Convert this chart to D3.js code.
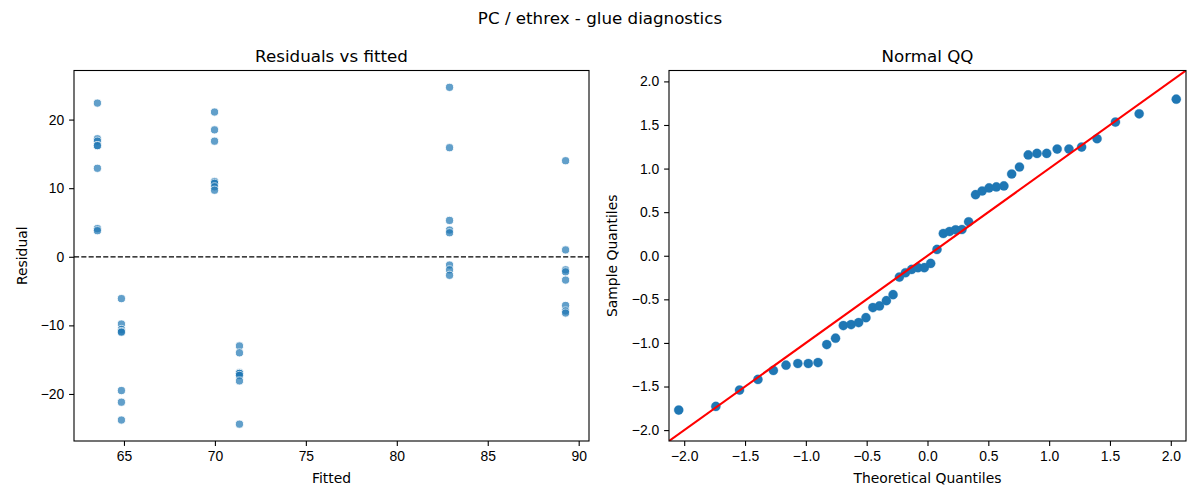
<!DOCTYPE html>
<html>
<head>
<meta charset="utf-8">
<script src="https://cdn.jsdelivr.net/npm/d3@7"></script>
<style>
  body { margin: 0; background: #fff; }
  svg { display: block; font-family: "DejaVu Sans", sans-serif; }
  .tick text { font-size: 13.9px; fill: #000; }
</style>
</head>
<body>
<svg id="chart" width="1200" height="500"></svg>
<script>
// ---------- data ----------
const suptitle = "PC / ethrex - glue diagnostics";
const leftTitle = "Residuals vs fitted";
const rightTitle = "Normal QQ";

const fitted = [
  63.54, 63.54, 63.54, 63.54, 63.54, 63.54, 63.54, 63.54,
  64.86, 64.86, 64.86, 64.86, 64.86, 64.86, 64.86, 64.86,
  69.98, 69.98, 69.98, 69.98, 69.98, 69.98, 69.98, 69.98,
  71.35, 71.35, 71.35, 71.35, 71.35, 71.35, 71.35, 71.35,
  82.90, 82.90, 82.90, 82.90, 82.90, 82.90, 82.90, 82.90,
  89.28, 89.28, 89.28, 89.28, 89.28, 89.28, 89.28, 89.28
];
const residual = [
  22.4, 17.2, 16.85, 16.2, 16.2, 12.9, 4.1, 3.8,
  -6.1, -9.8, -10.6, -10.9, -11.0, -19.5, -21.2, -23.8,
  21.1, 18.5, 16.85, 11.0, 10.9, 10.7, 10.2, 9.7,
  -13.0, -14.0, -16.9, -17.0, -17.0, -17.3, -18.1, -24.4,
  24.7, 15.9, 5.3, 3.9, 3.5, -1.2, -1.9, -2.7,
  14.0, 1.0, -1.9, -2.2, -3.4, -7.1, -7.9, -8.2
];
const fittedTicks = [65, 70, 75, 80, 85, 90];
const residualTicks = [-20, -10, 0, 10, 20];

const theoretical = [
  -2.045, -1.74, -1.545, -1.394, -1.267, -1.163, -1.066, -0.98, -0.90, -0.828, -0.756, -0.692,
  -0.628, -0.566, -0.506, -0.449, -0.395, -0.338, -0.283, -0.231, -0.181, -0.130, -0.078, -0.026,
  0.026, 0.078, 0.130, 0.181, 0.231, 0.283, 0.338, 0.395, 0.449, 0.506, 0.566, 0.628,
  0.692, 0.756, 0.828, 0.90, 0.98, 1.066, 1.163, 1.267, 1.394, 1.545, 1.74, 2.045
];
const sample = [
  -1.770, -1.728, -1.541, -1.419, -1.316, -1.255, -1.236, -1.236, -1.225, -1.019, -0.946, -0.801,
  -0.790, -0.767, -0.710, -0.595, -0.576, -0.515, -0.446, -0.245, -0.195, -0.157, -0.137, -0.137,
  -0.088, 0.072, 0.255, 0.278, 0.297, 0.301, 0.389, 0.701, 0.743, 0.778, 0.789, 0.801,
  0.938, 1.018, 1.156, 1.174, 1.174, 1.224, 1.224, 1.247, 1.342, 1.533, 1.628, 1.796
];
const qqTicks = [-2.0, -1.5, -1.0, -0.5, 0.0, 0.5, 1.0, 1.5, 2.0];
const qqLimits = [-2.125, 2.125];

// ---------- layout ----------
const svg = d3.select("#chart");
const plotTop = 70.5, plotBottom = 441;
const L = { x0: 74, x1: 589 };
const R = { x0: 669, x1: 1186 };
const blue = "#1f77b4";
const fmtInt = d3.format("d");
const fmt1 = d3.format(".1f");

function padDomain(vals) {
  const [a, b] = d3.extent(vals);
  const m = (b - a) * 0.05;
  return [a - m, b + m];
}

function frame(g, x0, x1) {
  g.append("rect")
    .attr("x", x0).attr("y", plotTop)
    .attr("width", x1 - x0).attr("height", plotBottom - plotTop)
    .attr("fill", "none").attr("stroke", "#000").attr("stroke-width", 1.1);
}

function styleAxis(sel) {
  sel.select(".domain").remove();
  sel.selectAll(".tick line").attr("stroke", "#000").attr("stroke-width", 1.1);
}

// ---------- suptitle ----------
svg.append("text").attr("x", 600).attr("y", 24)
  .attr("text-anchor", "middle").attr("font-size", 16.7).text(suptitle);

// ---------- left panel ----------
const xL = d3.scaleLinear().domain(padDomain(fitted)).range([L.x0, L.x1]);
const yL = d3.scaleLinear().domain(padDomain(residual)).range([plotBottom, plotTop]);
const gL = svg.append("g");

gL.append("g").attr("transform", `translate(0,${plotBottom})`)
  .call(d3.axisBottom(xL).tickValues(fittedTicks).tickFormat(fmtInt).tickSize(4.9).tickPadding(4.9))
  .call(styleAxis);
gL.append("g").attr("transform", `translate(${L.x0},0)`)
  .call(d3.axisLeft(yL).tickValues(residualTicks).tickFormat(fmtInt).tickSize(4.9).tickPadding(4.9))
  .call(styleAxis);

gL.append("line")
  .attr("x1", L.x0).attr("x2", L.x1)
  .attr("y1", yL(0)).attr("y2", yL(0))
  .attr("stroke", "#000").attr("stroke-width", 1.3)
  .attr("stroke-dasharray", "5.1,2.2");

gL.append("g").selectAll("circle")
  .data(fitted.map((f, i) => ({ f, r: residual[i] })))
  .join("circle")
  .attr("cx", d => xL(d.f)).attr("cy", d => yL(d.r))
  .attr("r", 4.1)
  .attr("fill", blue).attr("stroke", "#fff").attr("stroke-width", 0.9)
  .attr("opacity", 0.7);

frame(gL, L.x0, L.x1);

gL.append("text").attr("x", (L.x0 + L.x1) / 2).attr("y", 62)
  .attr("text-anchor", "middle").attr("font-size", 16.7).text(leftTitle);
gL.append("text").attr("x", (L.x0 + L.x1) / 2).attr("y", 483)
  .attr("text-anchor", "middle").attr("font-size", 13.9).text("Fitted");
gL.append("text")
  .attr("transform", `translate(26.5,${(plotTop + plotBottom) / 2}) rotate(-90)`)
  .attr("text-anchor", "middle").attr("font-size", 13.9).text("Residual");

// ---------- right panel ----------
const xR = d3.scaleLinear().domain(qqLimits).range([R.x0, R.x1]);
const yR = d3.scaleLinear().domain(qqLimits).range([plotBottom, plotTop]);
const gR = svg.append("g");

gR.append("g").attr("transform", `translate(0,${plotBottom})`)
  .call(d3.axisBottom(xR).tickValues(qqTicks).tickFormat(fmt1).tickSize(4.9).tickPadding(4.9))
  .call(styleAxis);
gR.append("g").attr("transform", `translate(${R.x0},0)`)
  .call(d3.axisLeft(yR).tickValues(qqTicks).tickFormat(fmt1).tickSize(4.9).tickPadding(4.9))
  .call(styleAxis);

gR.append("g").selectAll("circle")
  .data(theoretical.map((t, i) => ({ t, s: sample[i] })))
  .join("circle")
  .attr("cx", d => xR(d.t)).attr("cy", d => yR(d.s))
  .attr("r", 4.6)
  .attr("fill", blue).attr("stroke", blue).attr("stroke-width", 0.3);

svg.append("clipPath").attr("id", "qqclip")
  .append("rect").attr("x", R.x0).attr("y", plotTop)
  .attr("width", R.x1 - R.x0).attr("height", plotBottom - plotTop);

gR.append("line")
  .attr("clip-path", "url(#qqclip)")
  .attr("x1", xR(qqLimits[0])).attr("y1", yR(qqLimits[0]))
  .attr("x2", xR(qqLimits[1])).attr("y2", yR(qqLimits[1]))
  .attr("stroke", "red").attr("stroke-width", 2.1);

frame(gR, R.x0, R.x1);

gR.append("text").attr("x", (R.x0 + R.x1) / 2).attr("y", 62)
  .attr("text-anchor", "middle").attr("font-size", 16.7).text(rightTitle);
gR.append("text").attr("x", (R.x0 + R.x1) / 2).attr("y", 483)
  .attr("text-anchor", "middle").attr("font-size", 13.9).text("Theoretical Quantiles");
gR.append("text")
  .attr("transform", `translate(617,${(plotTop + plotBottom) / 2}) rotate(-90)`)
  .attr("text-anchor", "middle").attr("font-size", 13.9).text("Sample Quantiles");
</script>
</body>
</html>
